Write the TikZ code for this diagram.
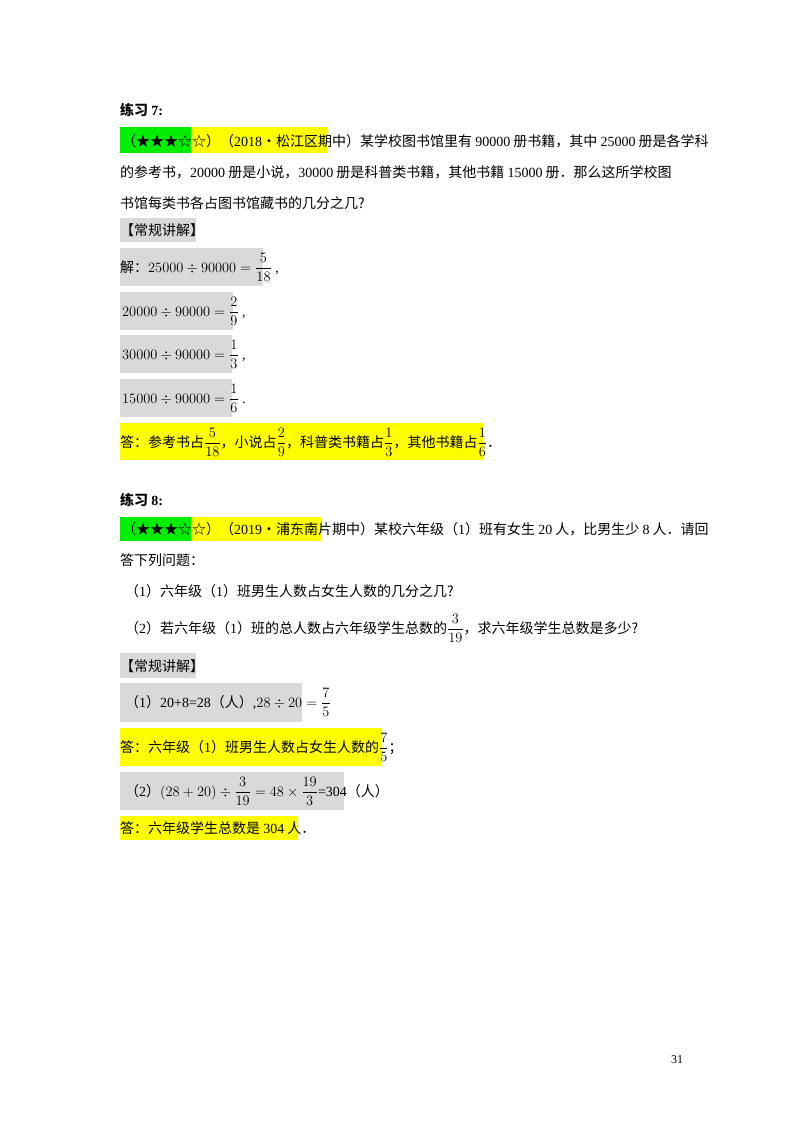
\documentclass[tikz,border=0pt]{standalone}
\usepackage{amsmath}
\usepackage{fontspec}
\setmainfont{Noto Sans CJK SC}
\newfontfamily\tm{Liberation Serif}
\newcommand\nm[1]{{\tm #1}}
\definecolor{hlg}{HTML}{D9D9D9}
\definecolor{hly}{HTML}{FFFF00}
\definecolor{hlgr}{HTML}{00EE00}
\begin{document}
\begin{tikzpicture}[x=1pt,y=-1pt,
  txt/.style={anchor=base west,inner sep=0pt,font=\fontsize{14}{17}\selectfont},
  gbox/.style={fill=hlg},ybox/.style={fill=hly},grbox/.style={fill=hlgr}]
\fill[white] (0,0) rectangle (800,1132);
% ---- exercise 7
\node[txt,font=\fontsize{14}{17}\selectfont\bfseries] (t7) at (120,115) {练习 \nm{\bfseries 7:}};
\fill[grbox] (120,127) rectangle (191,153);
\fill[ybox] (191,127) rectangle (327,153);
\node[txt] (l1) at (122,146) {（★★★☆☆）（\nm{2018}•松江区期中）某学校图书馆里有 \nm{90000} 册书籍，其中 \nm{25000} 册是各学科};
\node[txt] (l2) at (120,177) {的参考书，\nm{20000} 册是小说，\nm{30000} 册是科普类书籍，其他书籍 \nm{15000} 册．那么这所学校图};
\node[txt] (l3) at (120,208) {书馆每类书各占图书馆藏书的几分之几?};
\fill[gbox] (120,218) rectangle (196,242);
\node[txt] (h7) at (120,235) {【常规讲解】};
\fill[gbox] (120,248) rectangle (263,286);
\node[txt] (s1) at (120,272) {解：\nm{$25000\div90000=\dfrac{5}{18}$ ,}};
\fill[gbox] (120,292) rectangle (233,330);
\node[txt] (s2) at (122,316) {\nm{$20000\div90000=\dfrac{2}{9}$ ,}};
\fill[gbox] (120,335) rectangle (232,373);
\node[txt] (s3) at (122,359) {\nm{$30000\div90000=\dfrac{1}{3}$ ,}};
\fill[gbox] (120,379) rectangle (232,417);
\node[txt] (s4) at (122,403) {\nm{$15000\div90000=\dfrac{1}{6}$ .}};
\fill[ybox] (120,423) rectangle (483,460);
\node[txt] (a7) at (120,447) {答：参考书占$\dfrac{5}{18}$，小说占$\dfrac{2}{9}$，科普类书籍占$\dfrac{1}{3}$，其他书籍占$\dfrac{1}{6}$．};
% ---- exercise 8
\node[txt,font=\fontsize{14}{17}\selectfont\bfseries] (t8) at (120,505) {练习 \nm{\bfseries 8:}};
\fill[grbox] (120,517) rectangle (191,541);
\fill[ybox] (191,517) rectangle (322,541);
\node[txt] (m1) at (122,534) {（★★★☆☆）（\nm{2019}•浦东南片期中）某校六年级（\nm{1}）班有女生 \nm{20} 人，比男生少 \nm{8} 人．请回};
\node[txt] (m2) at (120,565) {答下列问题：};
\node[txt] (m3) at (125,596) {（\nm{1}）六年级（\nm{1}）班男生人数占女生人数的几分之几?};
\node[txt] (m4) at (125,633) {（\nm{2}）若六年级（\nm{1}）班的总人数占六年级学生总数的$\dfrac{3}{19}$，求六年级学生总数是多少?};
\fill[gbox] (120,653) rectangle (196,678);
\node[txt] (h8) at (120,671) {【常规讲解】};
\fill[gbox] (120,683) rectangle (302,722);
\node[txt] (r1) at (125,707) {（\nm{1}）\nm{20+8=28}（人）\nm{,$28\div20=\dfrac{7}{5}$}};
\fill[ybox] (120,728) rectangle (381,766);
\node[txt] (a8a) at (120,752) {答：六年级（\nm{1}）班男生人数占女生人数的$\dfrac{7}{5}$；};
\fill[gbox] (120,772) rectangle (344,810);
\node[txt] (r2) at (125,796) {（\nm{2}）\nm{$(28+20)\div\dfrac{3}{19}=48\times\dfrac{19}{3}$=304}（人）};
\fill[ybox] (120,816) rectangle (298,840);
\node[txt] (a8b) at (120,833) {答：六年级学生总数是 \nm{304} 人．};
\node[txt,font=\fontsize{12}{14}\selectfont] (pg) at (671,1063) {\nm{31}};
\end{tikzpicture}
\end{document}
